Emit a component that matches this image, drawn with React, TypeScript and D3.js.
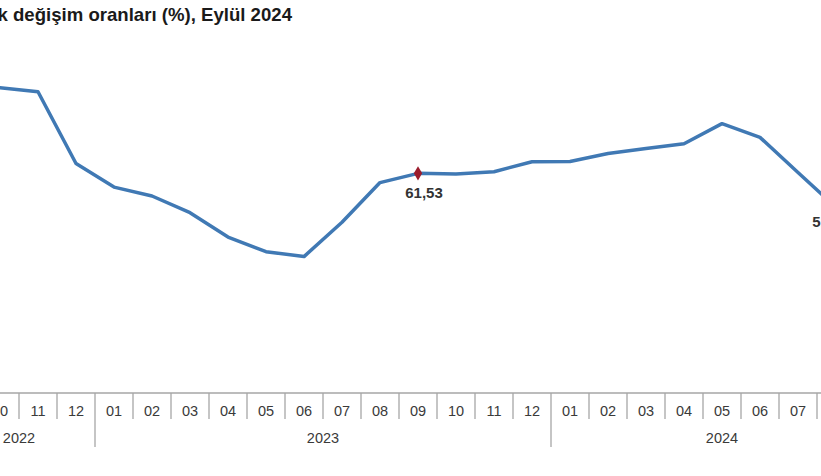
import React from "react";
import * as d3 from "d3";

const months = ["09","10","11","12","01","02","03","04","05","06","07","08","09","10","11","12","01","02","03","04","05","06","07","08","09"];
const years = ["2022","2022","2022","2022","2023","2023","2023","2023","2023","2023","2023","2023","2023","2023","2023","2023","2024","2024","2024","2024","2024","2024","2024","2024","2024"];
const values = [83.45,85.51,84.39,64.27,57.68,55.18,50.51,43.68,39.59,38.21,47.83,58.94,61.53,61.36,61.98,64.77,64.86,67.07,68.50,69.80,75.45,71.60,61.78,51.97,49.38];
const highlightIdx = [12, 23];
const highlightLabels = ["61,53", "51,97"];
const labelDx = [6, -5];
const labelDy = [25, 20];
const title = "Yıllık değişim oranları (%), Eylül 2024";

const W = 821, H = 476;

export default function App() {
  const x = d3.scaleLinear().domain([0, months.length - 1]).range([-38, 874]);
  const y = d3.scaleLinear().domain([0, 90]).range([393, 71.7]);
  const step = x(1) - x(0);
  const line = d3.line<number>().x((_, i) => x(i)).y((v) => y(v));

  const groups: { year: string; start: number; end: number }[] = [];
  years.forEach((yr, i) => {
    const g = groups[groups.length - 1];
    if (g && g.year === yr) g.end = i;
    else groups.push({ year: yr, start: i, end: i });
  });

  const axisY = 393;
  const diamond = d3.symbol().type(d3.symbolDiamond).size(60)();

  return (
    <svg width={W} height={H} style={{ position: "absolute", left: 0, top: 0, background: "#fff" }}
      fontFamily="Liberation Sans, Arial, sans-serif">
      <text x={292} y={21} textAnchor="end" fontSize={18.6} fontWeight="bold" fill="#1a1a1a">{title}</text>
      <line x1={0} x2={W} y1={axisY} y2={axisY} stroke="#a6a6a6" strokeWidth={1.5} />
      {months.map((m, i) => {
        const isYearStart = i > 0 && years[i] !== years[i - 1];
        return (
          <g key={i}>
            <line x1={x(i) - step / 2} x2={x(i) - step / 2} y1={axisY} y2={isYearStart ? 447 : 419}
              stroke="#a6a6a6" strokeWidth={1.3} />
            <text x={x(i)} y={416} textAnchor="middle" fontSize={14.5} fill="#3a3a3a">{m}</text>
          </g>
        );
      })}
      {groups.map((g) => (
        <text key={g.year} x={(x(g.start) + x(g.end)) / 2} y={443} textAnchor="middle" fontSize={14.5} fill="#3a3a3a">{g.year}</text>
      ))}
      <path d={line(values) || ""} fill="none" stroke="#4079b4" strokeWidth={3.5} strokeLinejoin="round" />
      {highlightIdx.map((idx, k) => (
        <g key={idx}>
          <path d={diamond || ""} transform={`translate(${x(idx)},${y(values[idx])})`} fill="#9b1c2c" />
          <text x={x(idx) + labelDx[k]} y={y(values[idx]) + labelDy[k]} textAnchor="middle" fontSize={15}
            fontWeight="bold" fill="#333">{highlightLabels[k]}</text>
        </g>
      ))}
    </svg>
  );
}
